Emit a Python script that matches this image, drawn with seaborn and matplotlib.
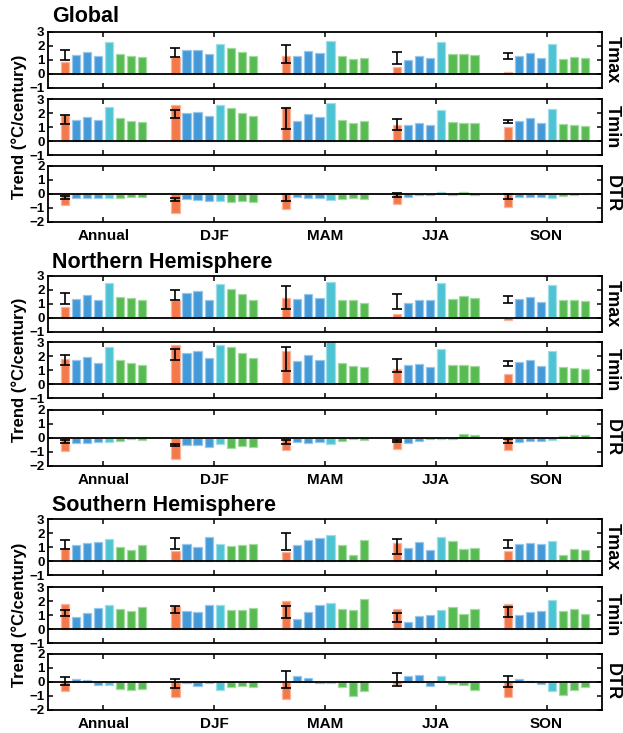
import numpy as np
import pandas as pd
import seaborn as sns
import matplotlib
matplotlib.use("Agg")
import matplotlib.pyplot as plt
import matplotlib.colors as mcolors

sns.set_theme(style="white")
plt.rcParams['font.family'] = ['Liberation Sans', 'DejaVu Sans']
plt.rcParams['font.weight'] = 'bold'
plt.rcParams['text.color'] = 'black'
plt.rcParams['axes.labelcolor'] = 'black'
plt.rcParams['xtick.color'] = 'black'
plt.rcParams['ytick.color'] = 'black'

seasons = ["Annual", "DJF", "MAM", "JJA", "SON"]
series = ["obs", "m1", "m2", "m3", "m4", "m5", "m6", "m7"]
colors = ["#F4794A", "#4499D8", "#4499D8", "#4499D8", "#4EC3D3", "#57BB52", "#57BB52", "#57BB52"]
regions = ["Global", "Northern Hemisphere", "Southern Hemisphere"]
variables = ["Tmax", "Tmin", "DTR"]

# values per season: [obs, blue x3, cyan, green x3]
glob_tmax = [[0.88, 1.36, 1.57, 1.31, 2.26, 1.43, 1.31, 1.24],
             [1.24, 1.69, 1.71, 1.40, 2.12, 1.83, 1.60, 1.31],
             [1.28, 1.26, 1.67, 1.48, 2.38, 1.26, 1.05, 1.12],
             [0.52, 1.00, 1.31, 1.17, 2.31, 1.43, 1.43, 1.33],
             [0.12, 1.31, 1.48, 1.14, 2.12, 1.10, 1.19, 1.14]]
glob_tmin = [[1.85, 1.51, 1.75, 1.51, 2.45, 1.65, 1.44, 1.39],
             [2.54, 1.97, 2.09, 1.80, 2.54, 2.37, 1.99, 1.80],
             [2.40, 1.43, 1.90, 1.71, 2.71, 1.52, 1.29, 1.40],
             [1.12, 1.12, 1.26, 1.17, 2.19, 1.36, 1.26, 1.31],
             [0.98, 1.45, 1.62, 1.26, 2.29, 1.19, 1.17, 1.07]]
glob_dtr = [[-0.82, -0.26, -0.26, -0.26, -0.26, -0.31, -0.19, -0.21],
            [-1.39, -0.38, -0.45, -0.47, -0.47, -0.59, -0.49, -0.54],
            [-1.10, -0.21, -0.31, -0.31, -0.40, -0.33, -0.31, -0.33],
            [-0.71, -0.19, -0.09, -0.09, 0.12, -0.05, 0.12, -0.05],
            [-0.92, -0.21, -0.19, -0.19, -0.26, -0.16, -0.07, 0.02]]
nh_tmax = [[0.79, 1.39, 1.63, 1.27, 2.47, 1.53, 1.46, 1.25],
           [1.25, 1.80, 1.92, 1.27, 2.40, 2.04, 1.73, 1.32],
           [1.43, 1.33, 1.74, 1.41, 2.57, 1.31, 1.29, 1.05],
           [0.29, 1.05, 1.27, 1.27, 2.48, 1.38, 1.60, 1.46],
           [-0.17, 1.34, 1.50, 1.12, 2.33, 1.31, 1.27, 1.24]]
nh_tmin = [[1.76, 1.71, 1.90, 1.52, 2.67, 1.69, 1.48, 1.36],
           [2.76, 2.19, 2.36, 1.83, 2.76, 2.67, 2.19, 1.88],
           [2.33, 1.64, 2.10, 1.71, 3.00, 1.52, 1.29, 1.19],
           [1.10, 1.33, 1.40, 1.24, 2.48, 1.33, 1.36, 1.26],
           [0.74, 1.57, 1.71, 1.26, 2.36, 1.19, 1.12, 1.07]]
nh_dtr = [[-0.92, -0.38, -0.33, -0.31, -0.26, -0.21, -0.09, -0.14],
          [-1.48, -0.47, -0.52, -0.61, -0.42, -0.68, -0.54, -0.61],
          [-0.89, -0.31, -0.38, -0.31, -0.42, -0.24, -0.05, -0.16],
          [-0.82, -0.35, -0.19, -0.07, -0.07, -0.05, 0.26, 0.19],
          [-0.89, -0.31, -0.24, -0.19, -0.12, 0.12, 0.19, 0.19]]
sh_tmax = [[0.92, 1.13, 1.32, 1.37, 1.54, 1.02, 0.78, 1.13],
           [0.71, 1.25, 1.02, 1.68, 1.18, 1.09, 1.11, 1.25],
           [0.64, 1.14, 1.50, 1.67, 1.86, 1.12, 0.40, 1.50],
           [1.32, 0.92, 1.39, 0.80, 1.73, 1.44, 0.87, 0.95],
           [0.71, 1.20, 1.32, 1.20, 1.42, 0.40, 0.87, 0.78]]
sh_tmin = [[1.81, 0.88, 1.17, 1.48, 1.71, 1.43, 1.31, 1.57],
           [1.64, 1.26, 1.21, 1.71, 1.71, 1.38, 1.38, 1.52],
           [2.02, 0.71, 1.24, 1.71, 1.83, 1.45, 1.33, 2.14],
           [1.45, 0.52, 0.90, 1.02, 1.36, 1.57, 1.05, 1.45],
           [1.76, 1.02, 1.24, 1.31, 2.05, 1.29, 1.45, 1.10]]
sh_dtr = [[-0.64, 0.24, 0.14, -0.19, -0.24, -0.47, -0.56, -0.47],
          [-1.04, -0.09, -0.26, -0.09, -0.59, -0.33, -0.31, -0.33],
          [-1.24, 0.45, 0.26, -0.10, -0.05, -0.33, -0.98, -0.67],
          [-0.14, 0.40, 0.52, -0.28, 0.40, -0.16, -0.21, -0.54],
          [-1.10, 0.19, 0.09, -0.16, -0.66, -0.92, -0.59, -0.38]]

# observational uncertainty range (low, high) per season
glob_tmax_err = [(1.00, 1.71), (1.24, 1.88), (0.79, 2.07), (0.71, 1.55), (1.07, 1.48)]
glob_tmin_err = [(1.20, 1.87), (1.63, 2.20), (0.88, 2.38), (0.81, 1.55), (1.31, 1.50)]
glob_dtr_err = [(-0.35, -0.14), (-0.47, -0.31), (-0.47, 0.00), (-0.19, 0.09), (-0.33, -0.02)]
nh_tmax_err = [(1.00, 1.77), (1.25, 1.99), (0.67, 2.25), (0.62, 1.70), (1.05, 1.55)]
nh_tmin_err = [(1.36, 2.07), (1.71, 2.48), (0.90, 2.64), (0.86, 1.79), (1.29, 1.62)]
nh_dtr_err = [(-0.35, -0.16), (-0.59, -0.40), (-0.40, -0.14), (-0.31, -0.12), (-0.35, -0.09)]
sh_tmax_err = [(0.85, 1.49), (0.87, 1.61), (0.79, 2.00), (0.50, 1.58), (0.92, 1.49)]
sh_tmin_err = [(0.93, 1.33), (1.14, 1.64), (0.79, 1.62), (0.50, 1.12), (0.86, 1.57)]
sh_dtr_err = [(-0.19, 0.35), (-0.42, 0.21), (-0.40, 0.76), (-0.26, 0.67), (-0.33, 0.40)]

values = {("Global", "Tmax"): glob_tmax, ("Global", "Tmin"): glob_tmin, ("Global", "DTR"): glob_dtr,
          ("Northern Hemisphere", "Tmax"): nh_tmax, ("Northern Hemisphere", "Tmin"): nh_tmin,
          ("Northern Hemisphere", "DTR"): nh_dtr,
          ("Southern Hemisphere", "Tmax"): sh_tmax, ("Southern Hemisphere", "Tmin"): sh_tmin,
          ("Southern Hemisphere", "DTR"): sh_dtr}
errors = {("Global", "Tmax"): glob_tmax_err, ("Global", "Tmin"): glob_tmin_err, ("Global", "DTR"): glob_dtr_err,
          ("Northern Hemisphere", "Tmax"): nh_tmax_err, ("Northern Hemisphere", "Tmin"): nh_tmin_err,
          ("Northern Hemisphere", "DTR"): nh_dtr_err,
          ("Southern Hemisphere", "Tmax"): sh_tmax_err, ("Southern Hemisphere", "Tmin"): sh_tmin_err,
          ("Southern Hemisphere", "DTR"): sh_dtr_err}

W, H = 623, 733
fig = plt.figure(figsize=(W / 100, H / 100), dpi=100)

left_px, right_px = 48, 602
panel_h = 56
region_tops = {"Global": [32, 99, 166],
               "Northern Hemisphere": [276, 342, 410],
               "Southern Hemisphere": [519, 587, 654]}
title_y = {"Global": 17, "Northern Hemisphere": 262, "Southern Hemisphere": 505}

n_series = len(series)
offsets = (np.arange(n_series) - (n_series - 1) / 2) * (0.8 / n_series)


def lighten(c, f=0.45):
    r, g, b, _ = mcolors.to_rgba(c)
    return (r + (1 - r) * f, g + (1 - g) * f, b + (1 - b) * f)


for region in regions:
    for k, var in enumerate(variables):
        top = region_tops[region][k]
        ax = fig.add_axes([left_px / W, 1 - (top + panel_h) / H,
                           (right_px - left_px) / W, panel_h / H])
        vals = values[(region, var)]
        df = pd.DataFrame([(s, ser, vals[i][j]) for i, s in enumerate(seasons)
                           for j, ser in enumerate(series)],
                          columns=["season", "series", "value"])
        sns.barplot(data=df, x="season", y="value", hue="series", order=seasons,
                    hue_order=series, palette=colors, width=0.8, gap=0.26,
                    legend=False, ax=ax, linewidth=0.9, saturation=1)
        for p in ax.patches:
            p.set_edgecolor(lighten(p.get_facecolor()))
        ax.axhline(0, color="black", lw=1.3, zorder=3)
        err = errors[(region, var)]
        lo = np.array([e[0] for e in err])
        hi = np.array([e[1] for e in err])
        mid = (lo + hi) / 2
        xs = np.arange(len(seasons)) + offsets[0]
        ax.errorbar(xs, mid, yerr=(hi - lo) / 2, fmt="none", ecolor="black",
                    elinewidth=1.2, capsize=3.3, capthick=1.2, zorder=4)
        ax.set_xlim(-0.5, len(seasons) - 0.5)
        if var == "DTR":
            ax.set_ylim(-2, 2)
            ax.set_yticks([-2, -1, 0, 1, 2])
        else:
            ax.set_ylim(-1, 3)
            ax.set_yticks([-1, 0, 1, 2, 3])
        ax.set_xlabel("")
        ax.set_ylabel("")
        ax.tick_params(axis="both", direction="in", length=3.5, width=1.1,
                       top=True, right=True, bottom=True, left=True,
                       labelsize=9.5, pad=2.5, colors="black")
        ax.tick_params(axis="x", labelsize=11, pad=5)
        if var != "DTR":
            ax.set_xticklabels([])
        for lab in ax.get_xticklabels() + ax.get_yticklabels():
            lab.set_fontweight("bold")
            lab.set_color("black")
        for sp in ax.spines.values():
            sp.set_visible(True)
            sp.set_color("black")
            sp.set_linewidth(1.3)
        ax.text(1.004, 0.5, var, transform=ax.transAxes, rotation=270,
                ha="left", va="center", fontsize=13, fontweight="bold",
                color="black")
        if var == "Tmin":
            fig.text(19 / W, 1 - (top + panel_h / 2) / H, "Trend (°C/century)",
                     rotation=90, ha="center", va="center", fontsize=12,
                     fontweight="bold", color="black")
    fig.text(52 / W, 1 - title_y[region] / H, region, ha="left", va="center",
             fontsize=15.5, fontweight="bold", color="black")

fig.savefig("out.png", dpi=100, facecolor="white")
